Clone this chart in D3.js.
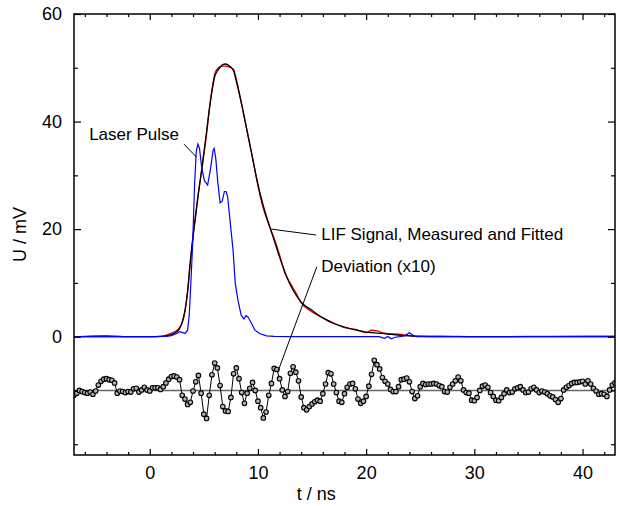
<!DOCTYPE html>
<html>
<head>
<meta charset="utf-8">
<script src="https://cdn.jsdelivr.net/npm/d3@7"></script>
<style>
  body { margin: 0; background: #fff; }
  svg { display: block; font-family: "Liberation Sans", Arial, sans-serif; }
</style>
</head>
<body>
<svg id="chart" width="619" height="506"></svg>
<script>
// time axis (ns) and tick values
const xMajorTicks = [0, 10, 20, 30, 40];
const xMinorTicks = [-6, -4, -2, 2, 4, 6, 8, 12, 14, 16, 18, 22, 24, 26, 28, 32, 34, 36, 38, 42];
const yMajorTicks = [0, 20, 40, 60];
const yMinorTicks = [-20, -10, 10, 30, 50];

// LIF signal, fitted and measured (mV)
const lifTime = [-7, -4, -2, 0, 1, 1.5, 2, 2.5, 2.75, 3, 3.25, 3.5, 3.75, 4, 4.25, 4.5, 4.75, 5,
  5.25, 5.5, 5.75, 6, 6.25, 6.5, 6.75, 7, 7.25, 7.5, 7.75, 8, 8.5, 9, 9.5, 10, 10.5, 11, 11.5, 12,
  12.5, 13, 13.5, 14, 15, 16, 17, 18, 19, 20, 20.5, 21, 21.5, 22, 23, 24, 25, 27, 30, 35, 40, 43];
const lifFitted = [0, 0, 0, 0, 0.05, 0.15, 0.4, 0.9, 1.5, 2.7, 4.8, 8.5, 14, 18.6, 22.6, 26.6, 30.3, 34.2,
  38.1, 42.2, 45.6, 48.3, 49.4, 50.1, 50.6, 50.7, 50.5, 50.1, 49.4, 47.5, 43.2, 38.2, 33.2, 28.3, 24.3, 21.0, 17.9, 14.8,
  12.0, 9.6, 7.8, 6.4, 4.9, 3.5, 2.45, 1.8, 1.25, 0.85, 0.75, 0.68, 0.6, 0.5, 0.3, 0.15, 0.05, 0, 0, 0, 0, 0];
const lifMeasured = [-0.05, 0.2, 0, 0, 0.05, 0.25, 0.65, 1.15, 1.7, 2.6, 4.6, 8.3, 13.8, 18.6, 22.8, 26.9, 30.2, 33.8,
  37.6, 42.1, 45.9, 48.8, 49.8, 50.2, 50.3, 50.3, 50.2, 50.0, 49.7, 47.9, 43.1, 38.2, 33.3, 28.1, 23.8, 20.9, 18.3, 15.2,
  11.8, 9.9, 8.2, 6.3, 4.6, 3.5, 2.55, 1.7, 1.35, 0.75, 1.2, 1.1, 0.75, 0.55, 0.45, 0.2, 0.1, 0.1, 0, 0.05, 0.1, 0.1];

// laser pulse (mV)
const laserTime = [-7, 0, 1.5, 2, 2.5, 2.75, 3, 3.25, 3.5, 3.65, 3.8, 3.95, 4.15, 4.3, 4.45, 4.6, 4.8, 5.05,
  5.35, 5.6, 5.85, 5.95, 6.1, 6.3, 6.5, 6.7, 6.9, 7.05, 7.2, 7.4, 7.7, 7.9, 8.15, 8.45, 8.7, 8.9, 9.1, 9.4,
  9.7, 10.15, 10.8, 11.5, 13, 20, 21.2, 21.7, 22, 22.3, 22.7, 23.1, 23.6, 24, 24.3, 24.6, 30, 43];
const laserValue = [0, 0, 0.05, 0.2, 0.6, 0.95, 0.8, 0.6, 1.2, 4, 10, 16.5, 28.5, 34.5, 35.8, 35.0, 31.5, 29.0,
  28.2, 31.0, 34.6, 35.0, 33.2, 28.5, 24.9, 25.2, 27.0, 27.0, 26.0, 22.0, 16.1, 10, 6.8, 4.0, 3.3, 3.9, 3.6, 2.5,
  1.25, 0.6, 0.15, 0.05, 0, 0, 0, -0.3, 0.05, -0.4, -0.1, 0, 0.2, 0.75, 0.3, 0, 0, 0];

// deviation x10, sampled every 0.25 ns from -7 ns, drawn around -10 mV
const devStart = -7;
const devStep = 0.25;
const devOffset = -10;
const devValue = [
  -0.9, -0.5, 0.0, -0.2, -0.4, -0.5, -0.3, -0.7, -0.1, 1.0, 1.7, 2.1, 2.2, 2.0, 1.9, 1.4, -0.5, -0.1, -0.2, -0.4,
  -0.2, -0.3, 0.3, 0.4, -0.3, 0.1, 0.6, 0.1, -0.1, 0.5, 0.5, 0.5, 0.2, 0.7, 1.4, 2.1, 2.6, 2.7, 2.5, 2.0,
  -0.9, -1.6, -2.6, -2.2, -0.1, 1.6, 2.8, -0.5, -4.4, -5.2, -0.9, 2.9, 5.1, 4.2, 0.9, -3.0, -3.8, -3.9, -1.3, 3.1,
  4.2, 2.2, -0.4, -2.4, -0.5, 0.4, 1.5, 0.0, -2.0, -3.2, -5.1, -4.0, -0.9, 1.3, 4.1, 3.9, 2.2, 0.1, -1.1, -0.2,
  3.2, 4.4, 3.4, 1.8, -1.2, -3.2, -3.6, -3.0, -2.5, -2.1, -1.8, -2.0, -0.6, 1.2, 3.3, 3.1, 1.2, -0.4, -2.0, -2.2,
  -0.6, 0.6, 1.2, 1.3, 0.3, -1.6, -2.4, -2.0, -1.1, 0.8, 3.0, 5.6, 4.8, 4.0, 2.4, 1.7, 1.2, 0.2, -0.2, -0.2,
  0.7, 2.0, 2.1, 2.3, 1.6, -0.2, -1.5, -1.0, 0.7, 1.3, 1.1, 1.2, 1.2, 1.3, 1.2, 0.9, 0.7, -0.2, -0.3, 0.6,
  1.2, 1.8, 2.5, 1.8, 0.1, -0.4, -0.5, -1.8, -1.9, -1.3, 0.0, 0.8, 1.0, 0.6, -0.4, -1.1, -1.8, -1.9, -1.3, -0.6,
  0.1, -0.4, -0.3, 0.3, 0.5, 0.7, 0.1, -0.4, -0.3, 0.3, 0.6, 0.1, -0.4, -0.1, -0.3, -0.6, -1.0, -1.2, -1.7, -2.2,
  -1.5, 0.1, 0.6, 0.9, 1.3, 1.5, 1.5, 1.6, 1.7, 1.2, 1.8, 1.2, 0.4, -0.1, -0.7, -0.6, -0.7, -1.1, 0.1, 1.0,
  1.4
];

const svg = d3.select("#chart");
const margin = { left: 74, right: 4, top: 14, bottom: 51 };
const width = 619, height = 506;

const x = d3.scaleLinear().domain([-7, 43]).range([margin.left, width - margin.right]);
const y = d3.scaleLinear().domain([-22, 60]).range([height - margin.bottom, margin.top]);

const plotW = x.range()[1] - x.range()[0];
const plotH = y.range()[0] - y.range()[1];

svg.append("clipPath").attr("id", "clip")
  .append("rect").attr("x", x.range()[0]).attr("y", y.range()[1]).attr("width", plotW).attr("height", plotH);

const plot = svg.append("g").attr("clip-path", "url(#clip)");

// deviation baseline
plot.append("line")
  .attr("x1", x.range()[0]).attr("x2", x.range()[1])
  .attr("y1", y(devOffset)).attr("y2", y(devOffset))
  .attr("stroke", "#666").attr("stroke-width", 1.5);

const dev = devValue.map((v, i) => [devStart + i * devStep, v + devOffset]);
const line = d3.line().x((d) => x(d[0])).y((d) => y(d[1]));

plot.append("path")
  .attr("d", line(dev))
  .attr("fill", "none").attr("stroke", "#000").attr("stroke-width", 1);

plot.append("g")
  .selectAll("circle")
  .data(dev)
  .join("circle")
  .attr("cx", (d) => x(d[0]))
  .attr("cy", (d) => y(d[1]))
  .attr("r", 2.3)
  .attr("fill", "#b4b4b4")
  .attr("stroke", "#000")
  .attr("stroke-width", 1.1);

const series = (t, v) => t.map((d, i) => [d, v[i]]);

plot.append("path")
  .attr("d", line.curve(d3.curveMonotoneX)(series(lifTime, lifMeasured)))
  .attr("fill", "none").attr("stroke", "#e00000").attr("stroke-width", 1.3);

plot.append("path")
  .attr("d", line(series(lifTime, lifFitted)))
  .attr("fill", "none").attr("stroke", "#000").attr("stroke-width", 1.3);

plot.append("path")
  .attr("d", line.curve(d3.curveLinear)(series(laserTime, laserValue)))
  .attr("fill", "none").attr("stroke", "#0000ff").attr("stroke-width", 1.2);

// axes: ticks point inward on all four sides
const y0 = y.range()[0], y1 = y.range()[1];
const x0 = x.range()[0], x1 = x.range()[1];

const addAxis = (axis, transform, labels) => {
  const g = svg.append("g").attr("transform", transform).call(axis);
  g.select(".domain").remove();
  g.selectAll("line").attr("stroke", "#000").attr("stroke-width", 1.2);
  g.selectAll("text").attr("font-size", 18).attr("font-family", "Liberation Sans, Arial, sans-serif").attr("fill", "#000");
  if (!labels) g.selectAll("text").remove();
  return g;
};

addAxis(d3.axisBottom(x).tickValues(xMajorTicks).tickSize(-6).tickPadding(11).tickFormat(d3.format("d")), `translate(0,${y0})`, true);
addAxis(d3.axisBottom(x).tickValues(xMinorTicks).tickSize(-3).tickFormat(""), `translate(0,${y0})`, false);
addAxis(d3.axisTop(x).tickValues(xMajorTicks).tickSize(-6), `translate(0,${y1})`, false);
addAxis(d3.axisTop(x).tickValues(xMinorTicks).tickSize(-3), `translate(0,${y1})`, false);

addAxis(d3.axisLeft(y).tickValues(yMajorTicks).tickSize(-7).tickPadding(12).tickFormat(d3.format("d")), `translate(${x0},0)`, true);
addAxis(d3.axisLeft(y).tickValues(yMinorTicks).tickSize(-4), `translate(${x0},0)`, false);
addAxis(d3.axisRight(y).tickValues(yMajorTicks).tickSize(-7), `translate(${x1},0)`, false);
addAxis(d3.axisRight(y).tickValues(yMinorTicks).tickSize(-4), `translate(${x1},0)`, false);

// frame
svg.append("rect")
  .attr("x", x0).attr("y", y1).attr("width", plotW).attr("height", plotH)
  .attr("fill", "none").attr("stroke", "#000").attr("stroke-width", 1.5);

// axis titles
svg.append("text")
  .attr("x", x(15.4)).attr("y", 500)
  .attr("text-anchor", "middle").attr("font-size", 18)
  .text("t / ns");

svg.append("text")
  .attr("transform", `translate(26,${(y0 + y1) / 2}) rotate(-90)`)
  .attr("text-anchor", "middle").attr("font-size", 18)
  .text("U / mV");

// annotations with leader lines (data coordinates)
const notes = [
  { text: "Laser Pulse", tx: -5.6, ty: 36.6, from: [3.17, 35.8], to: [4.31, 33.4] },
  { text: "LIF Signal, Measured and Fitted", tx: 15.85, ty: 17.9, from: [15.38, 18.9], to: [11.23, 20.0] },
  { text: "Deviation (x10)", tx: 15.85, ty: 12.1, from: [15.44, 13.0], to: [11.84, -6.5] }
];

const ann = svg.append("g");
ann.selectAll("line")
  .data(notes)
  .join("line")
  .attr("x1", (d) => x(d.from[0])).attr("y1", (d) => y(d.from[1]))
  .attr("x2", (d) => x(d.to[0])).attr("y2", (d) => y(d.to[1]))
  .attr("stroke", "#000").attr("stroke-width", 1);

ann.selectAll("text")
  .data(notes)
  .join("text")
  .attr("x", (d) => x(d.tx)).attr("y", (d) => y(d.ty))
  .attr("font-size", 17)
  .text((d) => d.text);
</script>
</body>
</html>
